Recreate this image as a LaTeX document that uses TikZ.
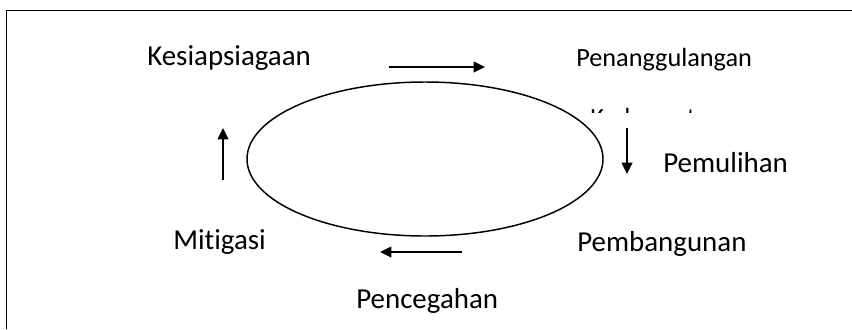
\documentclass[tikz,border=0pt]{standalone}
\usepackage{fontspec}
\setmainfont[Ligatures=NoCommon]{Carlito}
\usetikzlibrary{arrows.meta,shapes.geometric}
\begin{document}
\begin{tikzpicture}[x=0.75pt,y=-0.75pt,
  lbl/.style={anchor=base west,inner sep=0pt,font=\fontsize{21.7pt}{26pt}\selectfont},
  lblsmall/.style={anchor=base west,inner sep=0pt,font=\fontsize{19.7pt}{24pt}\selectfont},
  flow/.style={line width=1.1pt,-{Triangle[length=8.5pt,width=8pt]}}]
\useasboundingbox (0,0) rectangle (852,329);
\fill[white] (0,0) rectangle (852,329);
% frame (open at right and bottom)
\draw[line width=1.2pt] (852,10.5) -- (6.5,10.5) -- (6.5,329);
% cycle
\node[draw,ellipse,line width=1.1pt,inner sep=0pt,minimum width=267pt,minimum height=115.5pt] (cyc) at (425,159) {};
% labels
\node[lbl] (kes) at (147,65) {Kesiapsiagaan};
\node[lblsmall] (pen) at (576,66) {Penanggulangan};
\begin{scope}
\clip (580,100) rectangle (720,112);
\node[lblsmall] (ked) at (590,126) {Kedaruratan};
\end{scope}
\node[lbl] (pem) at (663,172) {Pemulihan};
\node[lbl] (pmb) at (577,251) {Pembangunan};
\node[lbl] (mit) at (173,249) {Mitigasi};
\node[lbl] (pcg) at (356,308) {Pencegahan};
% arrows
\coordinate (a1) at (389,67);  \coordinate (b1) at (485,67);
\coordinate (a2) at (627,128); \coordinate (b2) at (627,174);
\coordinate (a3) at (462,252); \coordinate (b3) at (380,252);
\coordinate (a4) at (223,180); \coordinate (b4) at (223,128);
\draw[flow] (a1) -- (b1);
\draw[flow] (a2) -- (b2);
\draw[flow] (a3) -- (b3);
\draw[flow] (a4) -- (b4);
\end{tikzpicture}
\end{document}
